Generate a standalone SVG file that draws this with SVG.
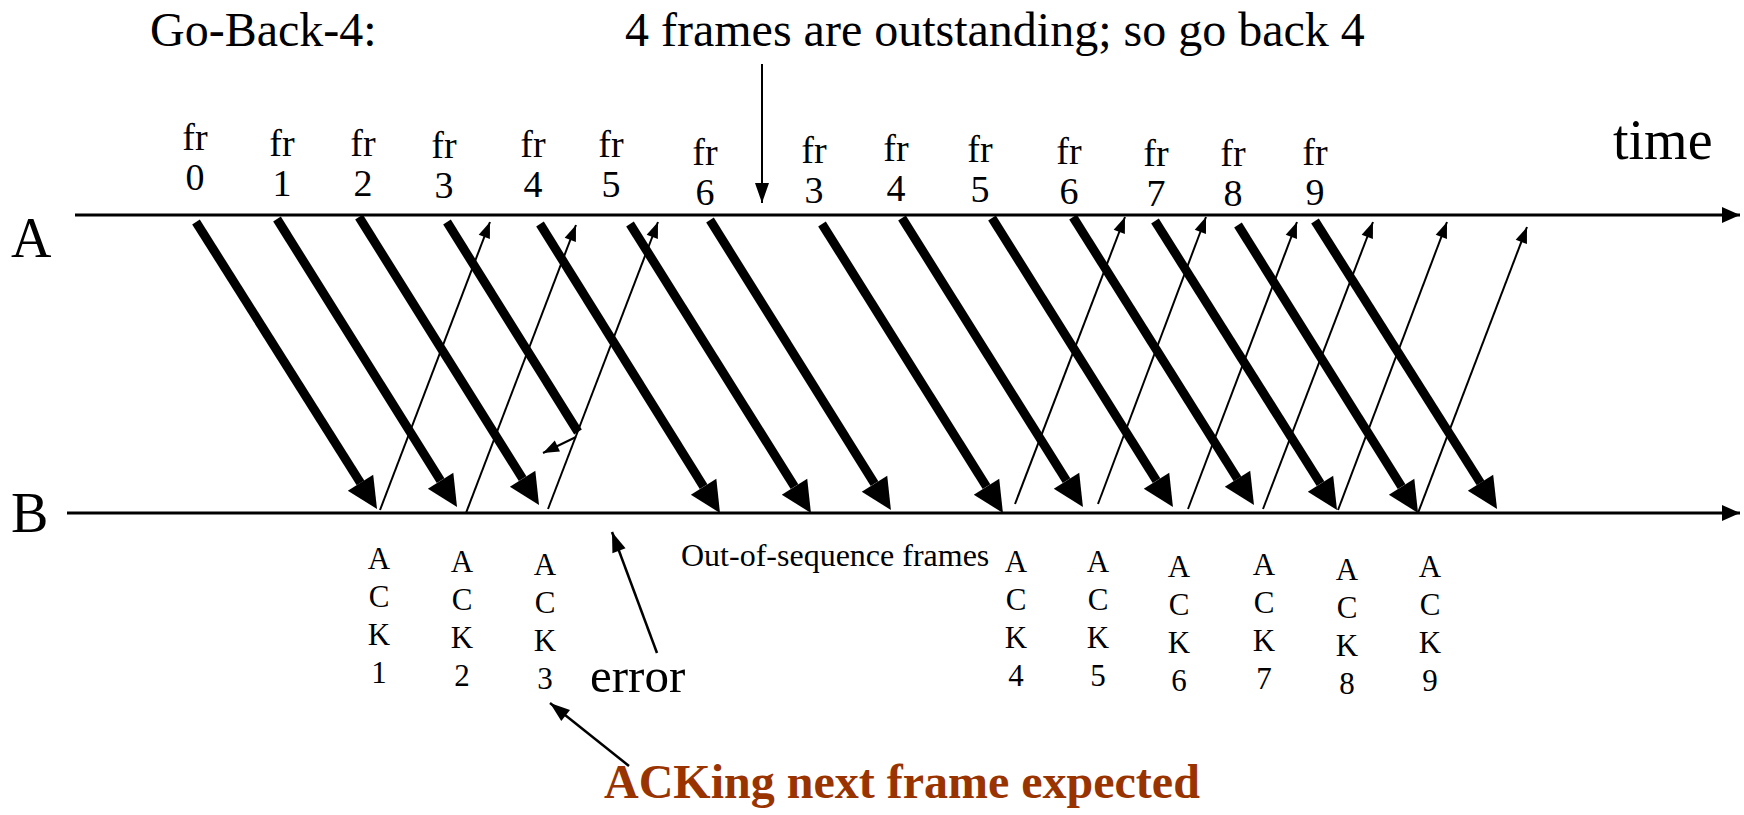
<svg xmlns="http://www.w3.org/2000/svg" width="1744" height="815" viewBox="0 0 1744 815">
<defs>
<style>
text{font-family:"Liberation Serif","Times New Roman",serif;fill:#000}
.fr{font-size:38px;text-anchor:middle}
.ack{font-size:31px;text-anchor:middle}
.big{font-size:48px}
.axis{stroke:#000;stroke-width:3;fill:none}
.data{stroke:#000;stroke-width:9;fill:none;stroke-linecap:butt}
.ackln{stroke:#000;stroke-width:2;fill:none}
.ptr{stroke:#000;stroke-width:2.5;fill:none}
</style>
<marker id="headThick" markerUnits="userSpaceOnUse" viewBox="0 -16 32 32" markerWidth="32" markerHeight="32" refX="0" refY="0" orient="auto" overflow="visible">
<path d="M0,-15 L31,0 L0,15 Z" fill="#000"/>
</marker>
<marker id="headThin" markerUnits="userSpaceOnUse" viewBox="0 -7 16 14" markerWidth="16" markerHeight="14" refX="16" refY="0" orient="auto" overflow="visible">
<path d="M0,-6 L16,0 L0,6 Z" fill="#000"/>
</marker>
<marker id="headPtr" markerUnits="userSpaceOnUse" viewBox="0 -8 20 16" markerWidth="20" markerHeight="16" refX="20" refY="0" orient="auto" overflow="visible">
<path d="M0,-7 L20,0 L0,7 Z" fill="#000"/>
</marker>
<marker id="headAxis" markerUnits="userSpaceOnUse" viewBox="0 -9 18 18" markerWidth="18" markerHeight="18" refX="18" refY="0" orient="auto" overflow="visible">
<path d="M0,-8 L18,0 L0,8 Z" fill="#000"/>
</marker>
</defs>

<g id="title"><text class="big" x="150" y="46">Go-Back-4:</text></g>
<g id="note-outstanding"><text class="big" x="625" y="46">4 frames are outstanding; so go back 4</text></g>
<g id="time-label"><text x="1613" y="159" font-size="56">time</text></g>

<g id="timeline-A">
<line class="axis" x1="75" y1="215" x2="1740" y2="215" marker-end="url(#headAxis)"/>
<text x="11" y="257" font-size="56">A</text>
</g>
<g id="timeline-B">
<line class="axis" x1="67" y1="513" x2="1740" y2="513" marker-end="url(#headAxis)"/>
<text x="11" y="532" font-size="56">B</text>
</g>

<g id="frame-0"><text class="fr" x="195" y="150">fr</text><text class="fr" x="195" y="190">0</text></g>
<g id="frame-1"><text class="fr" x="282" y="156">fr</text><text class="fr" x="282" y="196">1</text></g>
<g id="frame-2"><text class="fr" x="363" y="156">fr</text><text class="fr" x="363" y="196">2</text></g>
<g id="frame-3"><text class="fr" x="444" y="158">fr</text><text class="fr" x="444" y="198">3</text></g>
<g id="frame-4"><text class="fr" x="533" y="157">fr</text><text class="fr" x="533" y="197">4</text></g>
<g id="frame-5"><text class="fr" x="611" y="157">fr</text><text class="fr" x="611" y="197">5</text></g>
<g id="frame-6"><text class="fr" x="705" y="165">fr</text><text class="fr" x="705" y="205">6</text></g>
<g id="frame-3b"><text class="fr" x="814" y="163">fr</text><text class="fr" x="814" y="203">3</text></g>
<g id="frame-4b"><text class="fr" x="896" y="161">fr</text><text class="fr" x="896" y="201">4</text></g>
<g id="frame-5b"><text class="fr" x="980" y="162">fr</text><text class="fr" x="980" y="202">5</text></g>
<g id="frame-6b"><text class="fr" x="1069" y="164">fr</text><text class="fr" x="1069" y="204">6</text></g>
<g id="frame-7"><text class="fr" x="1156" y="166">fr</text><text class="fr" x="1156" y="206">7</text></g>
<g id="frame-8"><text class="fr" x="1233" y="166">fr</text><text class="fr" x="1233" y="206">8</text></g>
<g id="frame-9"><text class="fr" x="1315" y="165">fr</text><text class="fr" x="1315" y="205">9</text></g>

<g id="ack-1"><text class="ack" x="379" y="569"><tspan x="379">A</tspan><tspan x="379" dy="38">C</tspan><tspan x="379" dy="38">K</tspan><tspan x="379" dy="38">1</tspan></text></g>
<g id="ack-2"><text class="ack" x="462" y="572"><tspan x="462">A</tspan><tspan x="462" dy="38">C</tspan><tspan x="462" dy="38">K</tspan><tspan x="462" dy="38">2</tspan></text></g>
<g id="ack-3"><text class="ack" x="545" y="575"><tspan x="545">A</tspan><tspan x="545" dy="38">C</tspan><tspan x="545" dy="38">K</tspan><tspan x="545" dy="38">3</tspan></text></g>
<g id="ack-4"><text class="ack" x="1016" y="572"><tspan x="1016">A</tspan><tspan x="1016" dy="38">C</tspan><tspan x="1016" dy="38">K</tspan><tspan x="1016" dy="38">4</tspan></text></g>
<g id="ack-5"><text class="ack" x="1098" y="572"><tspan x="1098">A</tspan><tspan x="1098" dy="38">C</tspan><tspan x="1098" dy="38">K</tspan><tspan x="1098" dy="38">5</tspan></text></g>
<g id="ack-6"><text class="ack" x="1179" y="577"><tspan x="1179">A</tspan><tspan x="1179" dy="38">C</tspan><tspan x="1179" dy="38">K</tspan><tspan x="1179" dy="38">6</tspan></text></g>
<g id="ack-7"><text class="ack" x="1264" y="575"><tspan x="1264">A</tspan><tspan x="1264" dy="38">C</tspan><tspan x="1264" dy="38">K</tspan><tspan x="1264" dy="38">7</tspan></text></g>
<g id="ack-8"><text class="ack" x="1347" y="580"><tspan x="1347">A</tspan><tspan x="1347" dy="38">C</tspan><tspan x="1347" dy="38">K</tspan><tspan x="1347" dy="38">8</tspan></text></g>
<g id="ack-9"><text class="ack" x="1430" y="577"><tspan x="1430">A</tspan><tspan x="1430" dy="38">C</tspan><tspan x="1430" dy="38">K</tspan><tspan x="1430" dy="38">9</tspan></text></g>

<g id="out-of-seq-label"><text x="681" y="566" font-size="32">Out-of-sequence frames</text></g>
<g id="error-label"><text x="590" y="692" font-size="49">error</text></g>
<g id="acking-label"><text x="604" y="798" font-size="48" font-weight="bold" style="fill:#993300">ACKing next frame expected</text></g>

<g id="connectors">
<line class="data" x1="196" y1="222" x2="360.5" y2="482.8" marker-end="url(#headThick)"/>
<line class="data" x1="277" y1="219" x2="440.6" y2="480.7" marker-end="url(#headThick)"/>
<line class="data" x1="359" y1="217" x2="522.6" y2="478.7" marker-end="url(#headThick)"/>
<line class="data" x1="447" y1="222" x2="578" y2="432"/>
<line class="data" x1="540" y1="224" x2="703.6" y2="486.7" marker-end="url(#headThick)"/>
<line class="data" x1="630" y1="224" x2="794.5" y2="486.7" marker-end="url(#headThick)"/>
<line class="data" x1="710" y1="220" x2="874.5" y2="483.7" marker-end="url(#headThick)"/>
<line class="data" x1="822" y1="224" x2="986.5" y2="486.7" marker-end="url(#headThick)"/>
<line class="data" x1="902" y1="218" x2="1066.5" y2="480.7" marker-end="url(#headThick)"/>
<line class="data" x1="992" y1="218" x2="1156.5" y2="480.7" marker-end="url(#headThick)"/>
<line class="data" x1="1073" y1="217" x2="1237.5" y2="478.8" marker-end="url(#headThick)"/>
<line class="data" x1="1155" y1="221" x2="1320.5" y2="483.7" marker-end="url(#headThick)"/>
<line class="data" x1="1238" y1="225" x2="1401.6" y2="486.7" marker-end="url(#headThick)"/>
<line class="data" x1="1315" y1="221" x2="1480.5" y2="482.8" marker-end="url(#headThick)"/>

<line class="ackln" x1="380" y1="510" x2="490" y2="222" marker-end="url(#headThin)"/>
<line class="ackln" x1="466" y1="513" x2="576" y2="225" marker-end="url(#headThin)"/>
<line class="ackln" x1="548" y1="509" x2="658" y2="222" marker-end="url(#headThin)"/>
<line class="ackln" x1="1015" y1="504" x2="1125" y2="217" marker-end="url(#headThin)"/>
<line class="ackln" x1="1098" y1="504" x2="1206" y2="217" marker-end="url(#headThin)"/>
<line class="ackln" x1="1188" y1="509" x2="1297" y2="222" marker-end="url(#headThin)"/>
<line class="ackln" x1="1263" y1="509" x2="1373" y2="222" marker-end="url(#headThin)"/>
<line class="ackln" x1="1338" y1="510" x2="1447" y2="222" marker-end="url(#headThin)"/>
<line class="ackln" x1="1418" y1="513" x2="1527" y2="227" marker-end="url(#headThin)"/>

<line class="ackln" x1="576" y1="437" x2="543" y2="453" marker-end="url(#headThin)"/>
<line class="ackln" x1="762" y1="64" x2="762" y2="203" marker-end="url(#headPtr)"/>
<line class="ptr" x1="657" y1="653" x2="612" y2="532" marker-end="url(#headPtr)"/>
<line class="ptr" x1="629" y1="766" x2="550" y2="703" marker-end="url(#headPtr)"/>
</g>
</svg>
